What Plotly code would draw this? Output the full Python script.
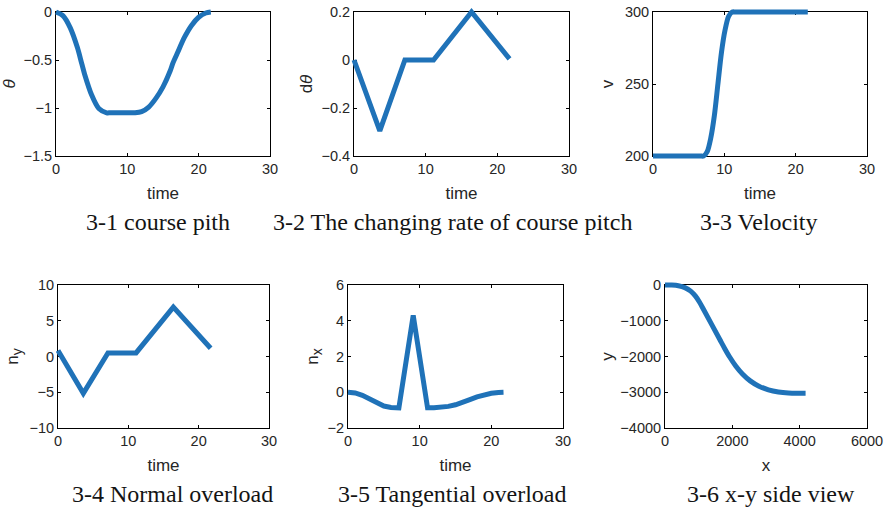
import plotly.graph_objects as go

# ---- data ----
t_theta = [0, 1, 2, 3, 3.6, 4, 5, 6, 7.1, 7.6, 9, 10.6, 11.1, 12, 13, 14, 15, 16, 16.4, 17, 18,
           19, 20, 21, 21.7]
theta = [0, -0.04, -0.165, -0.37, -0.535, -0.645, -0.865, -1.005, -1.05, -1.05, -1.05, -1.05,
         -1.05, -1.038, -0.99, -0.90, -0.78, -0.615, -0.53, -0.43, -0.265, -0.14, -0.055, -0.01, 0]

t_dtheta = [0, 3.6, 7.1, 11.1, 16.4, 21.7]
dtheta = [0, -0.295, 0, 0, 0.2, 0.005]

t_v = [0, 6.6, 7.1, 7.6, 8.1, 8.6, 9.1, 9.6, 10.1, 10.6, 11.1, 11.6, 21.7]
v = [200, 200, 200, 203, 212.5, 228, 250, 272, 287.5, 297, 300, 300, 300]

t_ny = [0, 3.6, 7.1, 11.1, 16.4, 21.7]
ny = [0.85, -5.15, 0.5, 0.5, 6.9, 1.15]

t_nx = [0, 1, 2, 3, 4, 5, 6, 7.1, 9.1, 11.1, 12, 13, 14, 15, 16, 17, 18, 19, 20, 21, 21.7]
nx = [0, -0.04, -0.17, -0.37, -0.61, -0.77, -0.85, -0.87, 4.3, -0.87, -0.865, -0.835, -0.79,
      -0.70, -0.58, -0.41, -0.26, -0.14, -0.06, -0.01, 0]

x_pos = [0, 200, 398, 590, 763, 906, 1022, 1134, 1632, 1768, 1926, 2101, 2301, 2531, 2791,
         3073, 3367, 3666, 3966, 4176]
y_pos = [0, -3, -22, -74, -172, -312, -476, -666, -1533, -1767, -2022, -2266, -2489, -2682,
         -2831, -2932, -2992, -3021, -3030, -3031]

captions = ["3-1 course pith", "3-2 The changing rate of course pitch", "3-3 Velocity",
            "3-4 Normal overload", "3-5 Tangential overload", "3-6 x-y side view"]
y_titles = ["<i>θ</i>", "d<i>θ</i>", "v",
            "n<sub><span style='font-size:14px'>y</span></sub>",
            "n<sub><span style='font-size:14px'>x</span></sub>", "y"]
x_titles = ["time", "time", "time", "time", "time", "x"]
x_ranges = [[0, 30]] * 5 + [[0, 6000]]
x_dticks = [10] * 5 + [2000]
y_ranges = [[-1.5, 0], [-0.4, 0.2], [200, 300], [-10, 10], [-2, 6], [-4000, 0]]
y_dticks = [0.5, 0.2, 50, 5, 2, 1000]

# ---- layout geometry (pixels) ----
W, H = 890, 510
boxes = [(56, 270, 12, 156), (354, 569, 12, 156), (653, 867, 12, 156),
         (58, 269, 285, 428), (348, 563, 285, 428), (665, 867, 285, 428)]
cap_pos = [(158, 222), (452, 222), (759, 222), (172, 494), (452, 494), (771, 494)]
y_standoffs = [6, 4, 6, 6, 4, 2]

series = [(t_theta, theta, "spline"), (t_dtheta, dtheta, "linear"), (t_v, v, "spline"),
          (t_ny, ny, "linear"), (t_nx, nx, "linear"), (x_pos, y_pos, "spline")]

BLUE = "#1f72b8"
PAD = 4  # px: lets the thick line run over the box edge, as in the original
fig = go.Figure()
tickfont = dict(family="Liberation Sans, Arial", size=14.5, color="#262626")
titlefont = dict(family="Liberation Sans, Arial", size=17, color="#262626")

n = len(series)
for i, (xs, ys, shape) in enumerate(series):
    k = "" if i == 0 else str(i + 1)
    kd = str(i + 1 + n)
    x0, x1, y0, y1 = boxes[i]
    common = dict(showline=True, linecolor="black", linewidth=1, mirror="ticks",
                  ticks="inside", ticklen=3, tickcolor="black", showgrid=False,
                  zeroline=False, tickfont=tickfont, fixedrange=True, automargin=False)
    # visible box axes
    fig.layout["xaxis" + k] = dict(domain=[x0 / W, x1 / W], anchor="y" + k,
                                   range=x_ranges[i], dtick=x_dticks[i], tick0=0,
                                   title=dict(text=x_titles[i], font=titlefont, standoff=10),
                                   **common)
    fig.layout["yaxis" + k] = dict(domain=[1 - y1 / H, 1 - y0 / H], anchor="x" + k,
                                   range=y_ranges[i], dtick=y_dticks[i],
                                   tick0=y_ranges[i][0],
                                   title=dict(text=y_titles[i], font=titlefont,
                                              standoff=y_standoffs[i]),
                                   **common)
    # hidden data axes, same scale, slightly larger clip area
    xr0, xr1 = x_ranges[i]
    yr0, yr1 = y_ranges[i]
    ux = (xr1 - xr0) / (x1 - x0)
    uy = (yr1 - yr0) / (y1 - y0)
    fig.layout["xaxis" + kd] = dict(domain=[(x0 - PAD) / W, (x1 + PAD) / W],
                                    anchor="y" + kd, visible=False, fixedrange=True,
                                    range=[xr0 - PAD * ux, xr1 + PAD * ux])
    fig.layout["yaxis" + kd] = dict(domain=[1 - (y1 + PAD) / H, 1 - (y0 - PAD) / H],
                                    anchor="x" + kd, visible=False, fixedrange=True,
                                    range=[yr0 - PAD * uy, yr1 + PAD * uy])
    fig.add_trace(go.Scatter(x=xs, y=ys, mode="lines",
                             line=dict(color=BLUE, width=5, shape=shape, smoothing=0.8),
                             xaxis="x" + kd, yaxis="y" + kd, showlegend=False,
                             hoverinfo="skip"))
    # a blank trace keeps the visible box subplot alive
    fig.add_trace(go.Scatter(x=[None], y=[None], mode="lines", xaxis="x" + k,
                             yaxis="y" + k, showlegend=False, hoverinfo="skip"))
    cx, cy = cap_pos[i]
    fig.add_annotation(x=cx / W, y=1 - cy / H, xref="paper", yref="paper",
                       text=captions[i], showarrow=False, xanchor="center", yanchor="middle",
                       font=dict(family="Liberation Serif, Times New Roman", size=24,
                                 color="#141414"))

fig.update_layout(width=W, height=H, margin=dict(l=0, r=0, t=0, b=0),
                  plot_bgcolor="rgba(0,0,0,0)", paper_bgcolor="white")
fig.write_html("out.html", config={"displayModeBar": False},
               post_script="document.body.style.margin='0';document.body.style.overflow='hidden';")
